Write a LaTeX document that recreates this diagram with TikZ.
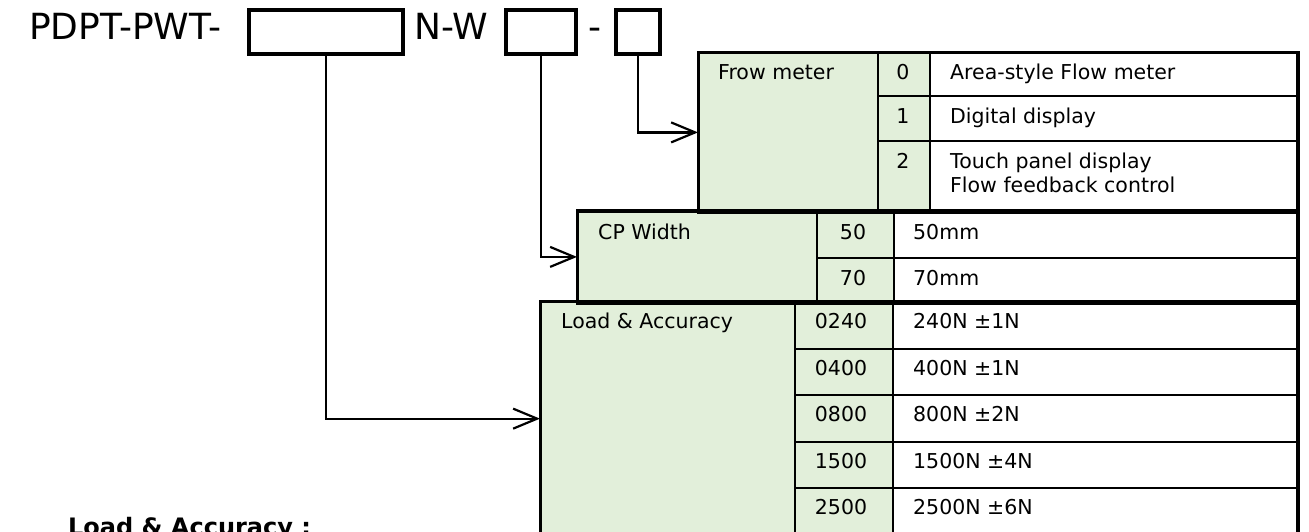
\documentclass[tikz,border=0pt]{standalone}
\usepackage{fontspec}
\setmainfont{DejaVu Sans}
\usetikzlibrary{arrows.meta}
\definecolor{cellgreen}{HTML}{E2EFDA}
\tikzset{
  cellbox/.style={draw=black, line width=2.3pt, inner sep=0pt, anchor=north west},
  outerbox/.style={draw=black, line width=3pt},
  hdrbox/.style={draw=black, line width=3.8pt, inner sep=0pt, anchor=north west},
  txt/.style={inner sep=0pt, font=\fontsize{20.5}{24}\selectfont},
  hdr/.style={inner sep=0pt, font=\fontsize{36}{40}\selectfont, anchor=base west},
  conn/.style={draw=black, line width=2.2pt, -{Straight Barb[length=24pt,width=20pt,line width=2.2pt]}}
}
\newcommand{\mycell}[6]{\node[cellbox, fill=#6, minimum width={#4-#2}, minimum height={#5-#3}] (#1) at (#2,#3) {};}
\begin{document}
\begin{tikzpicture}[x=1pt,y=-1pt]
\useasboundingbox (0,0) rectangle (1309,531);
\clip (0,0) rectangle (1309,531);
% header
\node[hdr] (t1) at (29,39) {PDPT-PWT-};
\node[hdrbox, minimum width=154, minimum height=44] (b1) at (247,8) {};
\node[hdr] (t2) at (414,39) {N-W};
\node[hdrbox, minimum width=70, minimum height=44] (b2) at (504,8) {};
\node[hdr] (t3) at (588,39) {-};
\node[hdrbox, minimum width=44, minimum height=44] (b3) at (614,8) {};
% Flow meter table
\mycell{fm}{698}{52}{877}{210.5}{cellgreen}
\mycell{fc0}{877}{52}{929}{95}{cellgreen}
\mycell{fc1}{877}{95}{929}{140}{cellgreen}
\mycell{fc2}{877}{140}{929}{210.5}{cellgreen}
\mycell{fd0}{929}{52}{1296}{95}{white}
\mycell{fd1}{929}{95}{1296}{140}{white}
\mycell{fd2}{929}{140}{1296}{210.5}{white}
% CP width table
\mycell{cp}{577}{210.5}{816}{301}{cellgreen}
\mycell{cc0}{816}{210.5}{893}{257}{cellgreen}
\mycell{cc1}{816}{257}{893}{301}{cellgreen}
\mycell{cd0}{893}{210.5}{1296}{257}{white}
\mycell{cd1}{893}{257}{1296}{301}{white}
% Load table
\mycell{ld}{540}{301}{794}{534}{cellgreen}
\mycell{lc0}{794}{301}{892}{347.5}{cellgreen}
\mycell{lc1}{794}{347.5}{892}{394}{cellgreen}
\mycell{lc2}{794}{394}{892}{441}{cellgreen}
\mycell{lc3}{794}{441}{892}{487}{cellgreen}
\mycell{lc4}{794}{487}{892}{534}{cellgreen}
\mycell{ldd0}{892}{301}{1296}{347.5}{white}
\mycell{ldd1}{892}{347.5}{1296}{394}{white}
\mycell{ldd2}{892}{394}{1296}{441}{white}
\mycell{ldd3}{892}{441}{1296}{487}{white}
\mycell{ldd4}{892}{487}{1296}{534}{white}
% outer frames
\draw[outerbox] (fm.north west) rectangle (fd2.south east);
\draw[outerbox] (cp.north west) rectangle (cd1.south east);
\draw[outerbox] (ld.north west) rectangle (ldd4.south east);
% texts flow
\node[txt, anchor=base west] (fmt) at (718,79) {Frow meter};
\node[txt, anchor=base] (fc0t) at (903,79) {0};
\node[txt, anchor=base] (fc1t) at (903,123) {1};
\node[txt, anchor=base] (fc2t) at (903,168) {2};
\node[txt, anchor=base west] (fd0t) at (950,79) {Area-style Flow meter};
\node[txt, anchor=base west] (fd1t) at (950,123) {Digital display};
\node[txt, anchor=base west] (fd2t) at (950,168) {Touch panel display};
\node[txt, anchor=base west] (fd2u) at (950,192) {Flow feedback control};
% texts cp
\node[txt, anchor=base west] (cpt) at (598,239) {CP Width};
\node[txt, anchor=base] (cc0t) at (853,239) {50};
\node[txt, anchor=base] (cc1t) at (853,285) {70};
\node[txt, anchor=base west] (cd0t) at (913,239) {50mm};
\node[txt, anchor=base west] (cd1t) at (913,285) {70mm};
% texts load
\node[txt, anchor=base west] (ldt) at (561,328.5) {Load \& Accuracy};
\node[txt, anchor=base] (lc0t) at (841,328.5) {0240};
\node[txt, anchor=base] (lc1t) at (841,375) {0400};
\node[txt, anchor=base] (lc2t) at (841,421.5) {0800};
\node[txt, anchor=base] (lc3t) at (841,468.5) {1500};
\node[txt, anchor=base] (lc4t) at (841,514.5) {2500};
\node[txt, anchor=base west] (ldd0t) at (913,328.5) {240N ±1N};
\node[txt, anchor=base west] (ldd1t) at (913,375) {400N ±1N};
\node[txt, anchor=base west] (ldd2t) at (913,421.5) {800N ±2N};
\node[txt, anchor=base west] (ldd3t) at (913,468.5) {1500N ±4N};
\node[txt, anchor=base west] (ldd4t) at (913,514.5) {2500N ±6N};
% connectors
\draw[conn] (b1.south) |- (ld.west);
\draw[conn] (b2.south) |- (cp.west);
\draw[conn] (b3.south) |- (fm.west);
% bottom note
\node[inner sep=0pt, anchor=base west, font=\bfseries\fontsize{24}{28}\selectfont] (note) at (68,535) {Load \& Accuracy :};
\end{tikzpicture}
\end{document}
